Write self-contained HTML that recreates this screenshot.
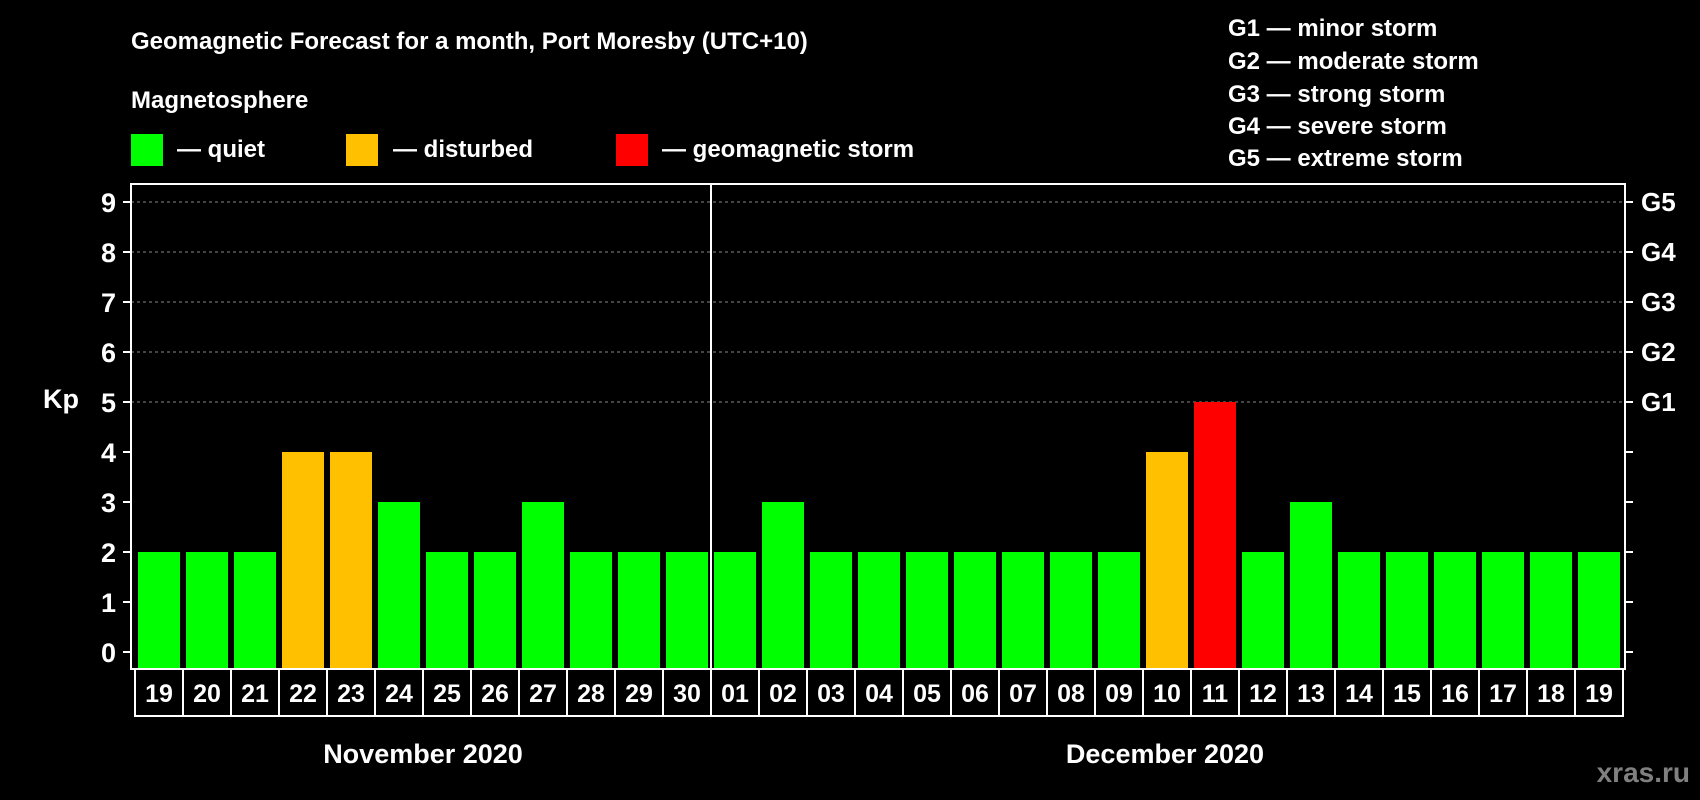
<!DOCTYPE html>
<html><head><meta charset="utf-8"><style>
html,body{margin:0;padding:0;background:#000;width:1700px;height:800px;overflow:hidden}
svg{display:block;font-family:"Liberation Sans",Arial,sans-serif;font-weight:bold}
</style></head><body>
<svg id="c" width="1700" height="800" xmlns="http://www.w3.org/2000/svg">
<rect width="1700" height="800" fill="#000"/>
<text x="131" y="49" fill="#fff" font-size="24">Geomagnetic Forecast for a month, Port Moresby (UTC+10)</text>
<text x="131" y="108" fill="#fff" font-size="24">Magnetosphere</text>
<g><rect x="131" y="134" width="32" height="32" fill="#00ff00"/><text x="177" y="157" fill="#fff" font-size="24">— quiet</text></g>
<g><rect x="346" y="134" width="32" height="32" fill="#ffc000"/><text x="393" y="157" fill="#fff" font-size="24">— disturbed</text></g>
<g><rect x="616" y="134" width="32" height="32" fill="#ff0000"/><text x="662" y="157" fill="#fff" font-size="24">— geomagnetic storm</text></g>
<g fill="#fff" font-size="24">
<text x="1228" y="36">G1 — minor storm</text>
<text x="1228" y="69">G2 — moderate storm</text>
<text x="1228" y="102">G3 — strong storm</text>
<text x="1228" y="134">G4 — severe storm</text>
<text x="1228" y="166">G5 — extreme storm</text>
</g>
<text x="43" y="408" fill="#fff" font-size="27">Kp</text>
<text x="423" y="763" fill="#fff" font-size="27" text-anchor="middle">November 2020</text>
<text x="1165" y="763" fill="#fff" font-size="27" text-anchor="middle">December 2020</text>
<text x="1690" y="782" fill="#808080" font-size="28" text-anchor="end">xras.ru</text>
<g id="plot"></g>
</svg>
<script>
const days=["19","20","21","22","23","24","25","26","27","28","29","30","01","02","03","04","05","06","07","08","09","10","11","12","13","14","15","16","17","18","19"];
const kp=[2,2,2,4,4,3,2,2,3,2,2,2,2,3,2,2,2,2,2,2,2,4,5,2,3,2,2,2,2,2,2];
const yTicks=[0,1,2,3,4,5,6,7,8,9];
const gLabels=["G1","G2","G3","G4","G5"];
const gLevels=[5,6,7,8,9];
const NS="http://www.w3.org/2000/svg";
const g=document.getElementById('plot');
const L=131,R=1625,T=184,B=669,X0=135,CW=48;
const y=v=>652-v*50;
const x=i=>X0+i*CW;
function mk(t,a,txt){const e=document.createElementNS(NS,t);for(const k in a)e.setAttribute(k,a[k]);if(txt!==undefined)e.textContent=txt;g.appendChild(e);return e;}
gLevels.forEach((v,i)=>{
 let l=mk('line',{x1:L,x2:R,y1:y(v),y2:y(v),stroke:'#888','stroke-dasharray':'3,3','stroke-width':1});
 
 
 let t=mk('text',{x:1641,y:y(v)+9,fill:'#fff','font-size':26},gLabels[i]);
 
 
});
kp.forEach((v,i)=>{
 const c=v>=5?'#ff0000':(v>=4?'#ffc000':'#00ff00');
 let r=mk('rect',{x:x(i)+3,y:y(v),width:42,height:B-y(v),fill:c});
 
 
});
yTicks.forEach(v=>{
 let t=mk('text',{x:116,y:y(v)+10,fill:'#fff','font-size':27,'text-anchor':'end'},String(v));
 
 
 mk('line',{x1:L-8,x2:L,y1:y(v),y2:y(v),stroke:'#fff','stroke-width':2});
 mk('line',{x1:R,x2:R+8,y1:y(v),y2:y(v),stroke:'#fff','stroke-width':2});
});
let f=mk('rect',{x:L,y:T,width:R-L,height:B-T,fill:'none',stroke:'#fff','stroke-width':2});


let s=mk('line',{x1:x(12),x2:x(12),y1:T,y2:B,stroke:'#fff','stroke-width':2});


days.forEach((d,i)=>{
 let r=mk('rect',{x:x(i),y:B,width:CW,height:47,fill:'#000',stroke:'#fff','stroke-width':2});
 
 
 let t=mk('text',{x:x(i)+CW/2,y:B+33,fill:'#fff','font-size':25,'text-anchor':'middle'},d);
 
 
});
</script>
</body></html>
